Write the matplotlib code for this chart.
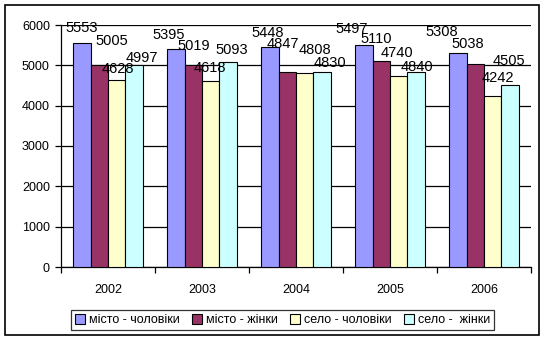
import numpy as np
import matplotlib.pyplot as plt
from matplotlib.patches import Rectangle

plt.rcParams['font.family'] = ['Liberation Sans', 'DejaVu Sans']

# data
years = ['2002', '2003', '2004', '2005', '2006']
series_names = ['місто - чоловіки', 'місто - жінки', 'село - чоловіки', 'село -  жінки']
city_men = [5553, 5395, 5448, 5497, 5308]
city_women = [5005, 5019, 4847, 5110, 5038]
village_men = [4628, 4618, 4808, 4740, 4242]
village_women = [4997, 5093, 4830, 4840, 4505]

colors = ['#9999FF', '#993366', '#FFFFCC', '#CCFFFF']

# label nudges (pixels) to mimic where the labels sit in the original
label_dx = [[0, -7, -2, -12, -16],
            [12, 0, -4, -5, -8],
            [1, -1, 10, -2, 5],
            [8, 4, 8, 1, -1]]
label_dy = [[15, 14, 14, 16, 21],
            [24, 19, 28, 22, 20],
            [11, 13, 23, 23, 18],
            [7, 12, 9, 5, 24]]

fig = plt.figure(figsize=(5.47, 3.39), dpi=100)
ax = fig.add_axes([61 / 547, 1 - 267 / 339, 470 / 547, 242 / 339])

x = np.arange(len(years))
w = 0.184
values = [city_men, city_women, village_men, village_women]
for i, (vals, name, c) in enumerate(zip(values, series_names, colors)):
    pos = x + (i - 1.5) * w
    ax.bar(pos, vals, width=w, color=c, edgecolor='black', linewidth=0.8,
           label=name, zorder=3)
    for j, (px, v) in enumerate(zip(pos, vals)):
        ax.annotate(str(v), (px, v), xytext=(label_dx[i][j], label_dy[i][j]),
                    textcoords='offset pixels', ha='center', va='center',
                    fontsize=10.5, zorder=5)

ax.set_xlim(-0.5, len(years) - 0.5)
ax.set_ylim(0, 6000)
ax.set_yticks(range(0, 6001, 1000))
ax.yaxis.grid(True, color='black', linewidth=0.9, zorder=0)
ax.set_axisbelow(True)

ax.set_xticks(x)
ax.set_xticklabels(years)
ax.set_xticks(np.arange(-0.5, len(years), 1.0), minor=True)
ax.tick_params(axis='x', which='major', length=0, pad=12, labelsize=9)
ax.tick_params(axis='x', which='minor', length=4, width=0.9, direction='out')
ax.tick_params(axis='y', length=4, width=0.9, direction='out', pad=4, labelsize=9)

for s in ['top', 'right']:
    ax.spines[s].set_visible(False)
for s in ['left', 'bottom']:
    ax.spines[s].set_linewidth(0.9)
    ax.spines[s].set_color('black')

leg = fig.legend(loc='center', bbox_to_anchor=(0.516, 0.056), ncol=4,
                 fontsize=9, frameon=True, fancybox=False, edgecolor='black',
                 handlelength=0.8, handleheight=0.8, handletextpad=0.3,
                 columnspacing=1.0, borderpad=0.3)
leg.get_frame().set_linewidth(0.9)

fig.patches.append(Rectangle((5 / 547, 4 / 339), 534 / 547, 330 / 339,
                             transform=fig.transFigure, fill=False,
                             edgecolor='black', linewidth=1.2))

fig.savefig('out.png', dpi=100)
